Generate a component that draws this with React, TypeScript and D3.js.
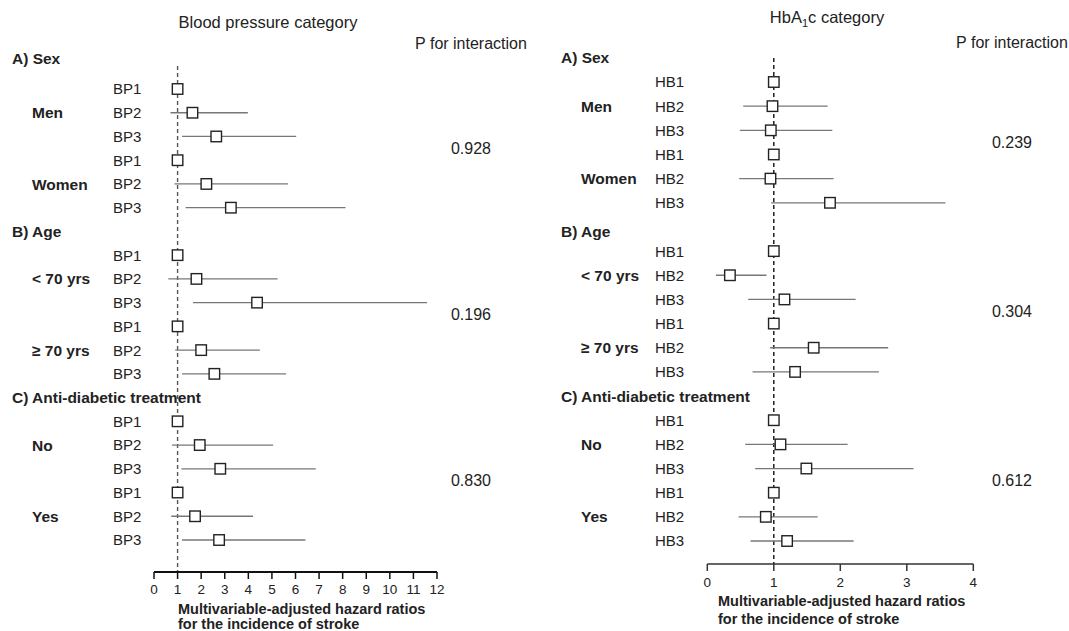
import React from "react";
import * as d3 from "d3";

// ---------- data ----------
const sections = ["A) Sex", "B) Age", "C) Anti-diabetic treatment"];
const subgroups = [
  ["Men", "Women"],
  ["< 70 yrs", "≥ 70 yrs"],
  ["No", "Yes"],
];
const bpCategories = ["BP1", "BP2", "BP3"];
const hbCategories = ["HB1", "HB2", "HB3"];

// order: section -> subgroup -> category
const bpHR = [1, 1.63, 2.64, 1, 2.22, 3.26, 1, 1.8, 4.37, 1, 2.0, 2.56, 1, 1.94, 2.81, 1, 1.74, 2.76];
const bpLower = [null, 0.7, 1.19, null, 0.87, 1.34, null, 0.61, 1.65, null, 0.9, 1.19, null, 0.76, 1.16, null, 0.73, 1.19];
const bpUpper = [null, 3.98, 6.03, null, 5.68, 8.12, null, 5.24, 11.58, null, 4.49, 5.6, null, 5.05, 6.86, null, 4.2, 6.42];
const bpPValues = ["0.928", "0.196", "0.830"];
const bpTicks = [0, 1, 2, 3, 4, 5, 6, 7, 8, 9, 10, 11, 12];

const hbHR = [1, 0.98, 0.955, 1, 0.95, 1.845, 1, 0.34, 1.16, 1, 1.6, 1.32, 1, 1.1, 1.49, 1, 0.88, 1.2];
const hbLower = [null, 0.54, 0.49, null, 0.48, 0.96, null, 0.13, 0.615, null, 0.945, 0.68, null, 0.57, 0.72, null, 0.47, 0.65];
const hbUpper = [null, 1.81, 1.88, null, 1.9, 3.58, null, 0.89, 2.23, null, 2.72, 2.58, null, 2.11, 3.1, null, 1.66, 2.2];
const hbPValues = ["0.239", "0.304", "0.612"];
const hbTicks = [0, 1, 2, 3, 4];

const axisLabelLines = ["Multivariable-adjusted hazard ratios", "for the incidence of stroke"];

const FONT = "'Liberation Sans', Arial, Helvetica, sans-serif";
const TEXT = "#222";

type Layout = {
  headerX: number;
  groupX: number;
  catX: number;
  xRange: [number, number];
  domain: [number, number];
  axisY: number;
  rowY: [number, number];
  headerOffsets: number[];
  titleX: number;
  titleY: number;
  pX: number;
  pHeaderY: number;
  refTop: number;
  refColor: string;
  tickLabelY: number;
  axisLabelY: number[];
  axisLabelX: number;
  axisColor: string;
  axisWidth: number;
};

function Panel(props: {
  title: React.ReactNode;
  categories: string[];
  hr: number[];
  lower: (number | null)[];
  upper: (number | null)[];
  pvals: string[];
  ticks: number[];
  L: Layout;
}) {
  const { title, categories, hr, lower, upper, pvals, ticks, L } = props;
  const x = d3.scaleLinear().domain(L.domain).range(L.xRange);
  const y = d3.scaleLinear().domain([1, 20]).range(L.rowY);
  const sq = 10.5;

  const rows: React.ReactNode[] = [];
  sections.forEach((sec, s) => {
    const hy = y(s * 7) + L.headerOffsets[s];
    rows.push(
      <text key={"h" + s} x={L.headerX} y={hy} dy="0.36em" fontWeight="bold" fontSize={15.5} fill={TEXT}>
        {sec}
      </text>
    );
    subgroups[s].forEach((g, gi) => {
      const base = s * 7 + 1 + gi * 3;
      rows.push(
        <text key={"g" + s + gi} x={L.groupX} y={y(base + 1)} dy="0.36em" fontWeight="bold" fontSize={15.5} fill={TEXT}>
          {g}
        </text>
      );
      categories.forEach((c, ci) => {
        const idx = s * 6 + gi * 3 + ci;
        const ry = y(base + ci);
        const lo = lower[idx];
        const hi = upper[idx];
        rows.push(
          <g key={"r" + idx}>
            <text x={L.catX} y={ry} dy="0.36em" fontSize={15} fill={TEXT}>
              {c}
            </text>
            {lo != null && hi != null && (
              <line x1={x(lo)} x2={x(hi)} y1={ry} y2={ry} stroke="#777" strokeWidth={1.3} />
            )}
            <rect
              x={x(hr[idx]) - sq / 2}
              y={ry - sq / 2}
              width={sq}
              height={sq}
              fill="#fff"
              stroke="#222"
              strokeWidth={1.4}
            />
          </g>
        );
      });
    });
    const pyc = (y(s * 7 + 1) + y(s * 7 + 6)) / 2;
    rows.push(
      <text key={"p" + s} x={L.pX} y={pyc} dy="0.36em" textAnchor="middle" fontSize={16} fill={TEXT}>
        {pvals[s]}
      </text>
    );
  });

  return (
    <g fontFamily={FONT}>
      <text x={L.titleX} y={L.titleY} dy="0.36em" textAnchor="middle" fontSize={16.5} fill={TEXT}>
        {title}
      </text>
      <text x={L.pX} y={L.pHeaderY} dy="0.36em" textAnchor="middle" fontSize={16} fill={TEXT}>
        P for interaction
      </text>
      {/* reference line at HR = 1 */}
      <line
        x1={x(1)}
        x2={x(1)}
        y1={L.refTop}
        y2={L.axisY}
        stroke={L.refColor}
        strokeWidth={1.4}
        strokeDasharray="4,3"
      />
      {rows}
      {/* axis */}
      <line x1={x(L.domain[0])} x2={x(L.domain[1])} y1={L.axisY} y2={L.axisY} stroke={L.axisColor} strokeWidth={L.axisWidth} />
      {ticks.map((t) => (
        <g key={"t" + t}>
          <line x1={x(t)} x2={x(t)} y1={L.axisY} y2={L.axisY + 7} stroke={L.axisColor} strokeWidth={1.5} />
          <text x={x(t)} y={L.tickLabelY} dy="0.36em" textAnchor="middle" fontSize={13.5} fill={TEXT}>
            {t}
          </text>
        </g>
      ))}
      {axisLabelLines.map((ln, i) => (
        <text
          key={"al" + i}
          x={L.axisLabelX}
          y={L.axisLabelY[i]}
          dy="0.36em"
          textAnchor="start"
          fontWeight="bold"
          fontSize={14.5}
          fill={TEXT}
        >
          {ln}
        </text>
      ))}
    </g>
  );
}

const leftLayout: Layout = {
  headerX: 12,
  groupX: 32,
  catX: 113,
  xRange: [154, 437],
  domain: [0, 12],
  axisY: 572,
  rowY: [89, 540],
  headerOffsets: [-7, 0, 0],
  titleX: 268,
  titleY: 22,
  pX: 471,
  pHeaderY: 43,
  refTop: 66,
  refColor: "#555",
  tickLabelY: 589,
  axisLabelY: [609, 624],
  axisLabelX: 178,
  axisColor: "#111",
  axisWidth: 2,
};

const rightLayout: Layout = {
  headerX: 561,
  groupX: 581,
  catX: 655,
  xRange: [707.3, 973.3],
  domain: [0, 4],
  axisY: 564,
  rowY: [82, 541],
  headerOffsets: [0, 4, 0],
  titleX: 827,
  titleY: 17,
  pX: 1012,
  pHeaderY: 42,
  refTop: 58,
  refColor: "#111",
  tickLabelY: 582,
  axisLabelY: [601, 619],
  axisLabelX: 718,
  axisColor: "#333",
  axisWidth: 1.6,
};

export default function App() {
  return (
    <svg
      width={1069}
      height={631}
      style={{ position: "absolute", left: 0, top: 0, background: "#fff" }}
    >
      <rect width={1069} height={631} fill="#fff" />
      <Panel
        title="Blood pressure category"
        categories={bpCategories}
        hr={bpHR}
        lower={bpLower}
        upper={bpUpper}
        pvals={bpPValues}
        ticks={bpTicks}
        L={leftLayout}
      />
      <Panel
        title={
          <>
            HbA
            <tspan dy="4" fontSize={11}>
              1
            </tspan>
            <tspan dy="-4">c category</tspan>
          </>
        }
        categories={hbCategories}
        hr={hbHR}
        lower={hbLower}
        upper={hbUpper}
        pvals={hbPValues}
        ticks={hbTicks}
        L={rightLayout}
      />
    </svg>
  );
}
